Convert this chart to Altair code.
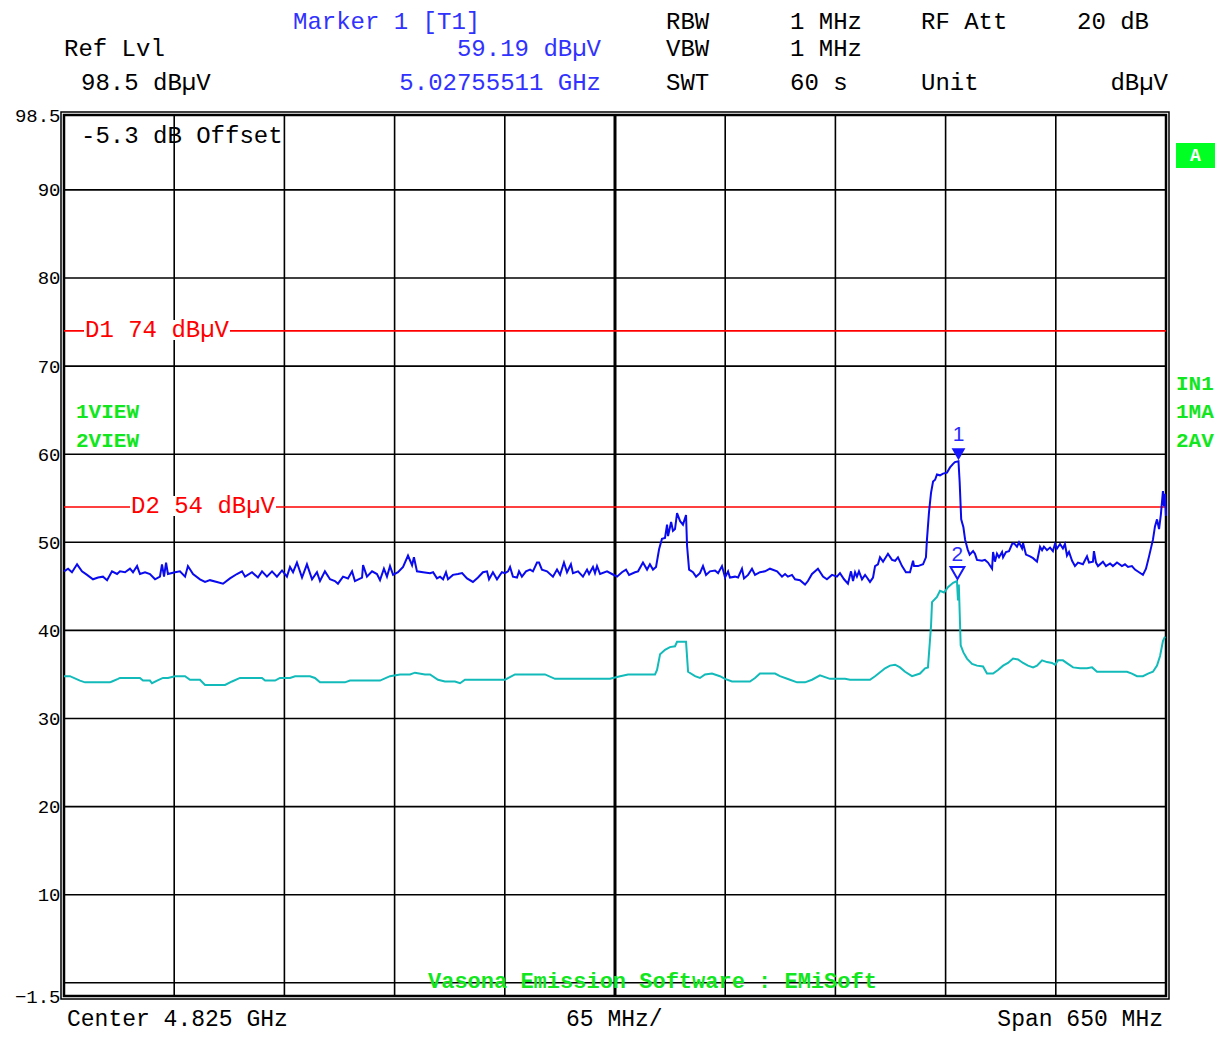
import altair as alt
import pandas as pd

# ---------------- data ----------------
blue_freq = [
    4500.0, 4502.4, 4504.7, 4507.7, 4510.6, 4513.6, 4517.1, 4520.1, 4523.0, 4525.4,
    4528.3, 4531.3, 4533.0, 4536.0, 4538.9, 4540.7, 4543.1, 4544.8, 4547.8, 4550.7,
    4553.7, 4556.6, 4557.8, 4559.0, 4560.2, 4561.3, 4565.5, 4568.4, 4571.4, 4573.1,
    4576.1, 4580.2, 4583.2, 4586.1, 4590.2, 4593.8, 4597.9, 4602.0, 4605.0, 4606.8,
    4610.9, 4614.4, 4616.8, 4619.7, 4622.7, 4625.6, 4628.6, 4631.5, 4633.3, 4635.1,
    4637.4, 4640.4, 4643.3, 4646.3, 4649.2, 4651.0, 4653.9, 4656.9, 4659.8, 4661.6,
    4664.6, 4667.5, 4669.9, 4671.6, 4675.8, 4676.4, 4678.7, 4681.7, 4684.6, 4686.4,
    4688.7, 4690.5, 4692.3, 4694.1, 4697.0, 4700.0, 4702.9, 4705.3, 4706.4, 4708.2,
    4711.8, 4715.9, 4717.7, 4720.0, 4721.8, 4723.6, 4725.3, 4726.5, 4729.4, 4732.4,
    4734.8, 4737.7, 4741.2, 4744.2, 4747.1, 4749.5, 4750.7, 4753.0, 4755.4, 4758.3,
    4760.1, 4761.9, 4763.1, 4764.8, 4767.2, 4768.4, 4770.1, 4772.5, 4774.9, 4776.6,
    4779.0, 4780.2, 4781.9, 4784.9, 4788.4, 4790.8, 4792.6, 4794.9, 4796.7, 4799.0,
    4800.2, 4803.2, 4806.1, 4808.5, 4809.7, 4812.0, 4813.2, 4814.4, 4816.2, 4820.3,
    4823.2, 4826.2, 4829.1, 4831.5, 4833.3, 4836.8, 4838.6, 4841.5, 4843.9, 4845.6,
    4847.4, 4849.2, 4851.0, 4852.7, 4854.5, 4855.7, 4856.3, 4858.1, 4859.2, 4860.4,
    4861.6, 4863.4, 4865.1, 4866.9, 4867.5, 4868.7, 4871.0, 4872.8, 4875.1, 4876.9,
    4878.7, 4881.0, 4884.0, 4885.8, 4888.1, 4889.9, 4891.7, 4892.8, 4895.8, 4897.6,
    4899.9, 4901.1, 4903.5, 4905.8, 4907.6, 4910.5, 4913.5, 4916.4, 4920.6, 4923.5,
    4925.3, 4927.0, 4929.4, 4931.2, 4934.1, 4937.1, 4938.8, 4941.2, 4944.7, 4947.7,
    4950.0, 4953.0, 4955.9, 4957.7, 4960.1, 4962.4, 4964.2, 4965.4, 4966.6, 4967.7,
    4968.9, 4970.7, 4972.5, 4973.6, 4975.4, 4977.2, 4978.4, 4980.1, 4981.3, 4983.1,
    4986.0, 4988.4, 4990.2, 4991.9, 4994.3, 4996.6, 4999.0, 5000.8, 5001.4, 5003.7,
    5006.7, 5008.4, 5009.0, 5010.2, 5011.4, 5012.6, 5013.8, 5014.9, 5016.7, 5018.5,
    5020.8, 5022.6, 5024.4, 5025.5, 5027.6, 5028.3, 5029.2, 5030.5, 5031.5, 5033.0,
    5034.2, 5036.2, 5037.3, 5038.5, 5041.5, 5043.2, 5045.0, 5047.4, 5048.0, 5049.1,
    5050.3, 5051.5, 5053.3, 5053.9, 5055.6, 5057.4, 5059.2, 5060.3, 5062.1, 5063.3,
    5065.1, 5065.7, 5067.4, 5069.8, 5071.6, 5073.9, 5075.7, 5076.9, 5078.0, 5079.8,
    5081.6, 5083.3, 5084.5, 5085.7, 5087.5, 5089.2, 5090.4, 5091.6, 5092.8, 5094.6,
    5096.3, 5098.1, 5101.0, 5103.4, 5104.6, 5106.9, 5107.5, 5108.7, 5109.9, 5112.8,
    5114.6, 5117.0, 5118.7, 5121.1, 5124.0, 5125.8, 5127.6, 5129.9, 5131.7, 5134.1,
    5136.4, 5138.2, 5140.0, 5142.3, 5143.5, 5144.7, 5145.9, 5147.0, 5147.6, 5148.2,
    5148.8, 5149.4, 5150.0,
]
blue_level = [
    46.7, 47.0, 46.6, 47.5, 46.7, 46.3, 45.8, 46.0, 46.1, 45.7,
    46.7, 46.4, 46.7, 46.6, 47.0, 46.6, 47.3, 46.4, 46.6, 46.4,
    45.8, 46.1, 47.5, 46.1, 47.7, 46.4, 46.6, 46.7, 46.1, 47.3,
    46.4, 45.8, 45.5, 45.7, 45.5, 45.3, 45.9, 46.4, 46.7, 46.1,
    46.6, 46.0, 46.7, 46.1, 46.7, 46.1, 46.8, 46.1, 47.2, 46.6,
    47.7, 46.0, 47.5, 45.8, 46.6, 45.6, 46.7, 45.8, 45.6, 45.3,
    46.1, 45.9, 46.7, 45.6, 46.0, 47.4, 46.1, 46.7, 46.4, 45.7,
    47.0, 46.1, 47.3, 46.3, 46.6, 47.2, 48.5, 47.4, 48.3, 46.7,
    46.6, 46.5, 46.6, 45.9, 46.1, 45.8, 46.6, 45.8, 46.3, 46.4,
    46.5, 45.9, 45.5, 46.0, 46.6, 46.7, 45.8, 46.6, 45.8, 46.6,
    46.5, 46.7, 47.2, 46.1, 46.0, 46.7, 46.1, 46.7, 46.9, 46.7,
    47.7, 47.7, 46.9, 46.7, 46.1, 46.9, 46.3, 47.7, 46.6, 47.5,
    46.5, 46.7, 46.1, 46.9, 46.4, 47.2, 46.5, 47.3, 46.4, 46.7,
    46.4, 46.1, 46.6, 46.9, 46.3, 46.6, 46.7, 47.7, 46.9, 47.5,
    46.9, 47.2, 49.2, 50.4, 50.5, 52.0, 50.7, 52.3, 51.3, 51.5,
    53.3, 52.4, 52.0, 53.1, 49.6, 46.9, 46.6, 46.1, 46.5, 47.3,
    46.3, 46.7, 46.8, 46.5, 47.3, 46.0, 46.7, 46.0, 46.1, 46.0,
    47.0, 45.9, 46.3, 47.0, 46.3, 46.6, 46.7, 47.0, 46.7, 46.1,
    46.4, 46.1, 46.3, 45.8, 45.7, 45.2, 45.6, 46.4, 47.0, 46.1,
    45.8, 46.3, 46.1, 46.5, 45.8, 45.3, 46.7, 45.6, 46.6, 46.1,
    46.7, 45.8, 46.3, 46.0, 45.5, 46.0, 47.3, 47.5, 48.3, 47.8,
    48.7, 48.0, 47.9, 48.3, 47.3, 46.6, 46.6, 47.9, 47.3, 47.3,
    47.5, 48.3, 50.3, 53.4, 55.6, 56.9, 57.1, 57.7, 57.6, 57.8,
    57.9, 58.5, 58.9, 59.1, 59.19, 56.8, 52.6, 51.7, 50.3, 49.2,
    48.6, 49.0, 48.7, 48.0, 47.9, 48.0, 47.7, 47.0, 48.9, 47.8,
    48.7, 48.3, 48.9, 48.3, 48.9, 49.0, 49.8, 49.9, 49.5, 50.0,
    49.3, 49.9, 48.6, 48.4, 48.2, 47.8, 49.5, 49.1, 49.5, 49.1,
    49.4, 49.0, 49.8, 49.3, 49.8, 49.3, 49.8, 48.5, 48.9, 47.9,
    47.3, 47.7, 47.5, 48.4, 47.7, 47.8, 49.0, 47.7, 47.3, 47.8,
    47.3, 47.6, 47.3, 47.7, 47.3, 47.5, 47.2, 47.3, 46.9, 46.6,
    46.3, 47.0, 48.4, 50.3, 51.8, 52.6, 51.5, 53.2, 54.5, 55.8,
    54.1, 55.5, 53.0,
]

cyan_freq = [
    4500.0, 4503.5, 4509.4, 4512.4, 4527.1, 4528.3, 4531.9, 4533.0, 4544.8, 4546.6,
    4550.7, 4551.9, 4554.9, 4558.4, 4561.3, 4565.5, 4571.4, 4574.3, 4580.2, 4583.2,
    4595.0, 4599.1, 4603.8, 4616.8, 4618.6, 4624.5, 4627.4, 4633.3, 4636.3, 4645.1,
    4648.0, 4651.0, 4665.7, 4668.7, 4686.4, 4692.3, 4698.2, 4704.1, 4707.0, 4712.9,
    4715.9, 4720.6, 4724.7, 4730.6, 4733.6, 4736.5, 4760.1, 4766.0, 4783.7, 4789.6,
    4822.1, 4828.0, 4832.7, 4848.6, 4849.8, 4851.6, 4854.5, 4857.4, 4860.4, 4861.6,
    4866.9, 4868.1, 4872.2, 4875.1, 4878.1, 4882.2, 4886.9, 4889.9, 4894.0, 4904.6,
    4907.6, 4910.5, 4919.4, 4922.3, 4928.2, 4932.4, 4937.1, 4941.2, 4945.9, 4951.8,
    4960.7, 4963.6, 4975.4, 4978.4, 4984.3, 4987.2, 4990.2, 4993.1, 4996.1, 5000.2,
    5004.9, 5007.9, 5009.6, 5011.4, 5012.0, 5014.9, 5016.7, 5019.1, 5021.4, 5024.4,
    5026.7, 5027.3, 5027.8, 5028.9, 5030.5, 5032.6, 5035.6, 5038.5, 5042.1, 5044.4,
    5048.0, 5050.9, 5053.9, 5056.8, 5059.8, 5062.7, 5065.7, 5068.6, 5071.6, 5073.9,
    5076.9, 5079.8, 5082.8, 5084.5, 5086.3, 5089.2, 5092.2, 5095.2, 5099.3, 5103.4,
    5106.4, 5109.3, 5127.0, 5129.9, 5132.9, 5136.4, 5139.4, 5142.3, 5144.7, 5146.5,
    5148.2, 5149.4,
]
cyan_level = [
    34.8, 34.8, 34.3, 34.1, 34.1, 34.2, 34.5, 34.6, 34.6, 34.3,
    34.3, 34.0, 34.3, 34.6, 34.6, 34.8, 34.8, 34.4, 34.4, 33.8,
    33.8, 34.2, 34.6, 34.6, 34.3, 34.3, 34.6, 34.6, 34.8, 34.8,
    34.6, 34.1, 34.1, 34.3, 34.3, 34.8, 35.0, 35.0, 35.2, 35.0,
    35.0, 34.4, 34.2, 34.2, 34.0, 34.4, 34.4, 35.0, 35.0, 34.5,
    34.5, 34.8, 35.0, 35.0, 35.5, 37.3, 37.8, 38.1, 38.2, 38.7,
    38.7, 35.3, 34.8, 34.6, 35.0, 35.1, 34.8, 34.5, 34.2, 34.2,
    34.6, 35.1, 35.1, 34.8, 34.4, 34.1, 34.1, 34.4, 34.9, 34.5,
    34.5, 34.4, 34.4, 34.8, 35.7, 36.0, 36.1, 35.8, 35.3, 34.8,
    35.1, 35.7, 35.8, 40.5, 43.2, 43.8, 44.5, 44.3, 44.9, 45.4,
    45.6, 43.4, 45.2, 38.3, 37.5, 36.8, 36.2, 36.0, 35.9, 35.1,
    35.1, 35.5, 36.0, 36.3, 36.8, 36.7, 36.3, 36.0, 35.8, 36.0,
    36.6, 36.4, 36.3, 36.1, 36.6, 36.6, 36.2, 35.8, 35.7, 35.7,
    35.8, 35.3, 35.3, 35.1, 34.8, 34.8, 35.1, 35.3, 36.0, 37.1,
    38.8, 39.3,
]

marker_freq = [5027.6, 5027.0]
marker_level = [59.19, 45.6]
marker_label = ["1", "2"]

limit_levels = [74, 54]
limit_labels = ["D1 74 dBµV", "D2 54 dBµV"]

grid_freqs = [4565, 4630, 4695, 4760, 4890, 4955, 5020, 5085]
center_freq = [4825]
grid_levels = [0, 10, 20, 30, 40, 50, 60, 70, 80, 90]
ytick_values = [-1.5, 10, 20, 30, 40, 50, 60, 70, 80, 90, 98.5]

header_black = ["RBW", "1 MHz", "RF Att", "20 dB",
                "Ref Lvl", "VBW", "1 MHz",
                "98.5 dBµV", "SWT", "60 s", "Unit"]
header_blue = ["Marker 1 [T1]", "59.19 dBµV", "5.02755511 GHz"]
unit_text = "dBµV"
footer = ["Center 4.825 GHz", "65 MHz/", "Span 650 MHz"]
offset_text = "-5.3 dB Offset"
trace_info_left = ["1VIEW", "2VIEW"]
trace_info_right = ["IN1", "1MA", "2AV"]
screen_tag = "A"
software_text = "Vasona Emission Software : EMiSoft"

# ---------------- style ----------------
FONT = "Liberation Mono"
W, H = 1102, 881
TXT_BLUE = "#3232ff"
TRACE_BLUE = "#0a0aee"
TRACE_CYAN = "#12baba"
RED = "#ff0000"
GREEN = "#12e61e"
HS = 24

xs = alt.Scale(domain=[4500, 5150], nice=False, zero=False)
ys = alt.Scale(domain=[-1.5, 98.5], nice=False, zero=False)
yaxis = alt.Axis(values=ytick_values, format=".1~f", grid=False, ticks=False,
                 domain=False, labelFont=FONT, labelFontSize=19,
                 labelColor="black", labelPadding=4, labelOverlap=False,
                 labelFlush=False, labelBaseline="middle", title=None)


def X(f):
    return alt.X(f, type="quantitative", scale=xs, axis=None)


def Y(f):
    return alt.Y(f, type="quantitative", scale=ys, axis=yaxis)


def label(s, x, y, color="black", align="left", size=HS, bold=False, font=FONT):
    return alt.Chart(pd.DataFrame({"t": [s]})).mark_text(
        font=font, fontSize=size, color=color, align=align, baseline="middle",
        fontWeight="bold" if bold else "normal",
    ).encode(text="t:N", x=alt.value(x), y=alt.value(y))


layers = []

# outer frame line (double border look)
layers.append(alt.Chart(pd.DataFrame({"t": ["frame"]})).mark_rect(
    fill=None, stroke="black", strokeWidth=1.5).encode(
    x=alt.value(-3), x2=alt.value(W + 3), y=alt.value(-3), y2=alt.value(H + 3)))

# grid
layers.append(alt.Chart(pd.DataFrame({"v": grid_levels})).mark_rule(
    color="black", strokeWidth=1.6).encode(y=Y("v")))
layers.append(alt.Chart(pd.DataFrame({"f": grid_freqs})).mark_rule(
    color="black", strokeWidth=1.6).encode(x=X("f")))
layers.append(alt.Chart(pd.DataFrame({"f": center_freq})).mark_rule(
    color="black", strokeWidth=3).encode(x=X("f")))

# limit lines
layers.append(alt.Chart(pd.DataFrame({"v": limit_levels})).mark_rule(
    color=RED, strokeWidth=1.6).encode(y=Y("v")))

# limit label backgrounds + labels
lim_pos = [(21, 215), (67, 391)]
for (lx, ly), txt in zip(lim_pos, limit_labels):
    layers.append(alt.Chart(pd.DataFrame({"t": [txt]})).mark_rect(color="white").encode(
        x=alt.value(lx - 1), x2=alt.value(lx + 14.4 * len(txt) + 1),
        y=alt.value(ly - 10), y2=alt.value(ly + 10)))
    layers.append(label(txt, lx, ly, color=RED))

# traces
layers.append(alt.Chart(pd.DataFrame({"f": cyan_freq, "dB": cyan_level})).mark_line(
    color=TRACE_CYAN, strokeWidth=2, interpolate="linear").encode(x=X("f"), y=Y("dB")))
layers.append(alt.Chart(pd.DataFrame({"f": blue_freq, "dB": blue_level})).mark_line(
    color=TRACE_BLUE, strokeWidth=2, interpolate="linear").encode(x=X("f"), y=Y("dB")))

# markers
mk = pd.DataFrame({"f": marker_freq, "dB": marker_level, "lab": marker_label})
layers.append(alt.Chart(mk.iloc[[0]]).mark_point(
    shape="triangle-down", filled=True, size=190, color="#1515ff", opacity=1,
    yOffset=-7).encode(x=X("f"), y=Y("dB")))
layers.append(alt.Chart(mk.iloc[[1]]).mark_point(
    shape="triangle-down", filled=False, size=190, color="#1515ff", strokeWidth=2,
    opacity=1, yOffset=-8).encode(x=X("f"), y=Y("dB")))
layers.append(alt.Chart(mk).mark_text(
    font="Liberation Sans", fontSize=21, color="#2a2aff", dy=-26, baseline="middle").encode(
    x=X("f"), y=Y("dB"), text="lab:N"))

# header texts
R1, R2, R3 = -93, -66, -32
hb_pos = [(602, R1), (726, R1), (857, R1), (1013, R1),
          (0, R2), (602, R2), (726, R2),
          (17, R3), (602, R3), (726, R3), (857, R3)]
for (hx, hy), s in zip(hb_pos, header_black):
    layers.append(label(s, hx, hy))
layers.append(label(header_blue[0], 229, R1, color=TXT_BLUE))
layers.append(label(header_blue[1], 537, R2, color=TXT_BLUE, align="right"))
layers.append(label(header_blue[2], 537, R3, color=TXT_BLUE, align="right"))
layers.append(label(unit_text, 1104, R3, align="right"))

# footer
FY = 904
layers.append(label(footer[0], 3, FY, size=23))
layers.append(label(footer[1], 502, FY, size=23))
layers.append(label(footer[2], 1099, FY, align="right", size=23))

# in-plot texts
layers.append(label(offset_text, 17, 21))
for s, yy in zip(trace_info_left, [297, 326]):
    layers.append(label(s, 12, yy, color=GREEN, size=21, bold=True))
for s, yy in zip(trace_info_right, [269, 297, 326]):
    layers.append(label(s, 1112, yy, color=GREEN, size=21, bold=True))
layers.append(label(software_text, 364, 866, color=GREEN, size=22, bold=True))

# screen tag box
layers.append(alt.Chart(pd.DataFrame({"t": [screen_tag]})).mark_rect(color="#00ff22").encode(
    x=alt.value(1112), x2=alt.value(1151), y=alt.value(28), y2=alt.value(53)))
layers.append(label(screen_tag, 1131.5, 41, color="white", align="center", size=18, bold=True))

chart = alt.layer(*layers).properties(
    width=W, height=H,
    padding={"left": 56, "top": 107, "right": 50, "bottom": 38},
    autosize=alt.AutoSizeParams(type="none"),
    background="white",
).configure_view(stroke="black", strokeWidth=2.5)

chart.save("out.html", embed_options={"renderer": "svg", "actions": False})
